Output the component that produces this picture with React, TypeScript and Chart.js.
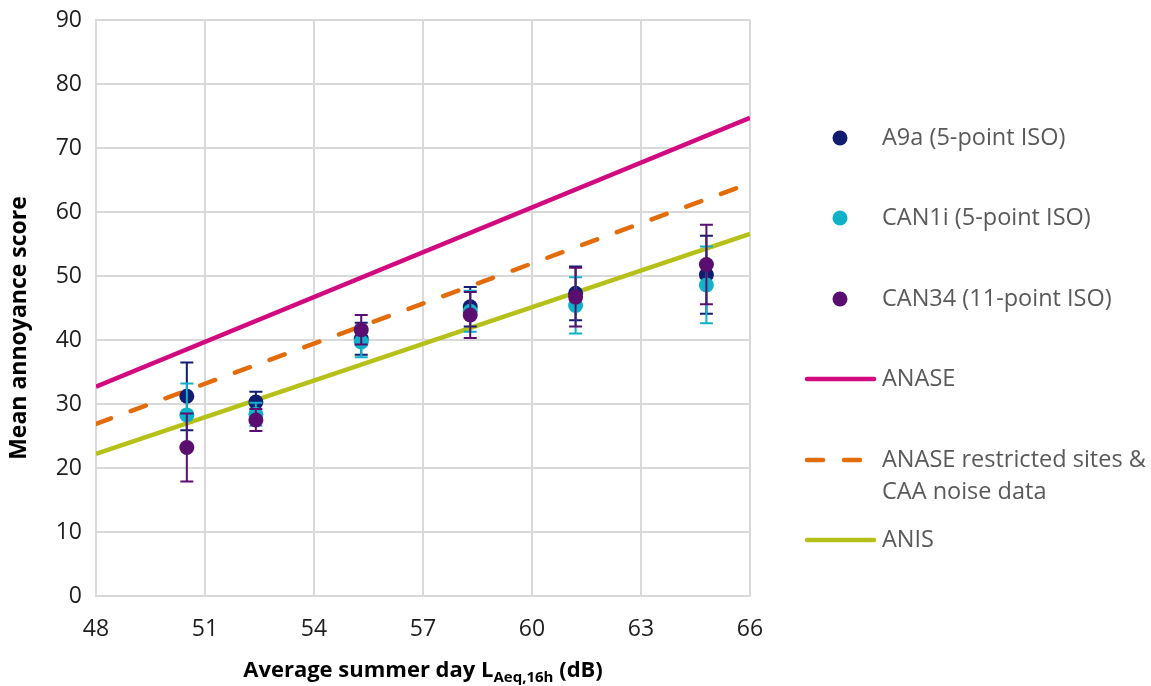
import React, { useEffect, useRef } from 'react';
import { Chart, registerables } from 'chart.js';

Chart.register(...registerables);

// ---- Data ----
const xLevels = [50.5, 52.4, 55.3, 58.3, 61.2, 64.8];

const a9aMean = [31.2, 30.3, 40.2, 45.2, 47.3, 50.2];
const a9aErr = [5.3, 1.6, 2.5, 3.1, 4.2, 6.1];

const can1iMean = [28.3, 28.4, 39.7, 44.5, 45.4, 48.6];
const can1iErr = [4.9, 1.8, 2.4, 3.2, 4.4, 6.0];

const can34Mean = [23.2, 27.5, 41.6, 43.9, 46.7, 51.8];
const can34Err = [5.3, 1.7, 2.3, 3.6, 4.6, 6.2];

const lineX = [48, 66];
const anase = [32.7, 74.7];
const anaseRestricted = [26.9, 64.5];
const anis = [22.2, 56.6];

const seriesLabels = [
  ['A9a (5-point ISO)'],
  ['CAN1i (5-point ISO)'],
  ['CAN34 (11-point ISO)'],
  ['ANASE'],
  ['ANASE restricted sites &', 'CAA noise data'],
  ['ANIS'],
];

const xTicks = [48, 51, 54, 57, 60, 63, 66];
const yTicks = [0, 10, 20, 30, 40, 50, 60, 70, 80, 90];

const yTitle = 'Mean annoyance score';
const xTitleMain = 'Average summer day L';
const xTitleSub = 'Aeq,16h';
const xTitleEnd = ' (dB)';

// ---- Styles ----
const C_A9A = '#121d72';
const C_CAN1I = '#0fb2c8';
const C_CAN34 = '#5a0f70';
const C_ANASE = '#d10a80';
const C_REST = '#e36c0a';
const C_ANIS = '#b5c118';
const FONT = "'Open Sans', sans-serif";
const TEXT_GRAY = '#595959';
const TICK_COLOR = '#1e1e1e';

const pts = (xs: number[], ys: number[]) => xs.map((x, i) => ({ x, y: ys[i] }));

const errorBarPlugin = {
  id: 'errorBars',
  beforeDatasetDraw(chart: any, args: any) {
    const ds = chart.data.datasets[args.index];
    if (!ds.errors) return;
    const ctx = chart.ctx;
    const xs = chart.scales.x;
    const ys = chart.scales.y;
    ctx.save();
    ctx.strokeStyle = ds.backgroundColor;
    ctx.lineWidth = 2;
    ds.data.forEach((p: any, i: number) => {
      const e = ds.errors[i];
      const px = xs.getPixelForValue(p.x);
      const top = ys.getPixelForValue(p.y + e);
      const bot = ys.getPixelForValue(p.y - e);
      ctx.beginPath();
      ctx.moveTo(px, top);
      ctx.lineTo(px, bot);
      ctx.moveTo(px - 6.5, top);
      ctx.lineTo(px + 6.5, top);
      ctx.moveTo(px - 6.5, bot);
      ctx.lineTo(px + 6.5, bot);
      ctx.stroke();
    });
    ctx.restore();
  },
};

const legendAndTitlesPlugin = {
  id: 'customLegendTitles',
  afterDraw(chart: any) {
    const ctx = chart.ctx;
    const area = chart.chartArea;
    ctx.save();
    // Legend
    const rowsY = [138, 218, 299, 379, 460, 540];
    const markerX = 840;
    const lineX0 = 805;
    const lineX1 = 876;
    const textX = 882;
    ctx.font = `23.5px ${FONT}`;
    ctx.textBaseline = 'middle';
    ctx.textAlign = 'left';
    chart.data.datasets.forEach((ds: any, i: number) => {
      const y = rowsY[i];
      if (ds.showLine) {
        ctx.save();
        ctx.strokeStyle = ds.borderColor;
        ctx.lineWidth = ds.borderWidth;
        ctx.lineCap = 'round';
        if (ds.borderDash && ds.borderDash.length) ctx.setLineDash([16, 21]);
        ctx.beginPath();
        ctx.moveTo(lineX0 + 2, y);
        ctx.lineTo(lineX1 - 2, y);
        ctx.stroke();
        ctx.restore();
      } else {
        ctx.fillStyle = ds.backgroundColor;
        ctx.beginPath();
        ctx.arc(markerX, y, 7.5, 0, Math.PI * 2);
        ctx.fill();
      }
      ctx.fillStyle = TEXT_GRAY;
      const lines = seriesLabels[i];
      lines.forEach((t, j) => ctx.fillText(t, textX, y + j * 32));
    });

    // Y title
    ctx.fillStyle = '#000';
    ctx.font = `bold 23px ${FONT}`;
    ctx.save();
    ctx.translate(19, 328);
    ctx.rotate(-Math.PI / 2);
    ctx.textAlign = 'center';
    ctx.textBaseline = 'middle';
    ctx.fillText(yTitle, 0, 0);
    ctx.restore();

    // X title with subscript
    const mainFont = `bold 22px ${FONT}`;
    const subFont = `bold 15px ${FONT}`;
    ctx.font = mainFont;
    const w1 = ctx.measureText(xTitleMain).width;
    const w3 = ctx.measureText(xTitleEnd).width;
    ctx.font = subFont;
    const w2 = ctx.measureText(xTitleSub).width;
    const total = w1 + w2 + w3;
    let x0 = (area.left + area.right) / 2 - total / 2;
    const yBase = 677;
    ctx.textAlign = 'left';
    ctx.textBaseline = 'alphabetic';
    ctx.font = mainFont;
    ctx.fillText(xTitleMain, x0, yBase);
    x0 += w1;
    ctx.font = subFont;
    ctx.fillText(xTitleSub, x0, yBase + 5);
    x0 += w2;
    ctx.font = mainFont;
    ctx.fillText(xTitleEnd, x0, yBase);
    ctx.restore();
  },
};

export default function App() {
  const canvasRef = useRef<HTMLCanvasElement | null>(null);

  useEffect(() => {
    document.body.style.margin = '0';
    const canvas = canvasRef.current;
    if (!canvas) return;
    const chart = new Chart(canvas, {
      type: 'scatter',
      data: {
        datasets: [
          {
            label: seriesLabels[0].join(' '),
            data: pts(xLevels, a9aMean),
            errors: a9aErr,
            backgroundColor: C_A9A,
            borderColor: C_A9A,
            pointRadius: 7.5,
            pointBorderWidth: 0,
            order: 3,
          } as any,
          {
            label: seriesLabels[1].join(' '),
            data: pts(xLevels, can1iMean),
            errors: can1iErr,
            backgroundColor: C_CAN1I,
            borderColor: C_CAN1I,
            pointRadius: 7.5,
            pointBorderWidth: 0,
            order: 2,
          } as any,
          {
            label: seriesLabels[2].join(' '),
            data: pts(xLevels, can34Mean),
            errors: can34Err,
            backgroundColor: C_CAN34,
            borderColor: C_CAN34,
            pointRadius: 7.5,
            pointBorderWidth: 0,
            order: 1,
          } as any,
          {
            label: seriesLabels[3].join(' '),
            data: pts(lineX, anase),
            showLine: true,
            borderColor: C_ANASE,
            backgroundColor: C_ANASE,
            borderWidth: 4.5,
            pointRadius: 0,
            order: 6,
          },
          {
            label: seriesLabels[4].join(' '),
            data: pts(lineX, anaseRestricted),
            showLine: true,
            borderColor: C_REST,
            backgroundColor: C_REST,
            borderWidth: 4.5,
            borderDash: [16, 21],
            borderCapStyle: 'round',
            pointRadius: 0,
            order: 5,
          },
          {
            label: seriesLabels[5].join(' '),
            data: pts(lineX, anis),
            showLine: true,
            borderColor: C_ANIS,
            backgroundColor: C_ANIS,
            borderWidth: 4.5,
            pointRadius: 0,
            order: 4,
          },
        ],
      },
      options: {
        animation: false,
        responsive: false,
        maintainAspectRatio: false,
        layout: { padding: { top: 20, right: 401, bottom: 0, left: 0 } },
        plugins: {
          legend: { display: false },
          tooltip: { enabled: false },
          title: { display: false },
        },
        scales: {
          x: {
            type: 'linear',
            min: xTicks[0],
            max: xTicks[xTicks.length - 1],
            afterBuildTicks: (scale: any) => {
              scale.ticks = xTicks.map((v) => ({ value: v }));
            },
            afterFit: (scale: any) => {
              scale.height = 90;
              scale.paddingLeft = 0;
              scale.paddingRight = 0;
            },
            ticks: {
              color: TICK_COLOR,
              font: { family: FONT, size: 23 },
              padding: 20,
              maxRotation: 0,
            },
            grid: { color: '#d9d9d9', lineWidth: 2, drawTicks: false },
            border: { display: true, color: '#d9d9d9', width: 2 },
          },
          y: {
            type: 'linear',
            min: yTicks[0],
            max: yTicks[yTicks.length - 1],
            afterBuildTicks: (scale: any) => {
              scale.ticks = yTicks.map((v) => ({ value: v }));
            },
            afterFit: (scale: any) => {
              scale.width = 96;
              scale.paddingTop = 0;
              scale.paddingBottom = 0;
            },
            ticks: {
              color: TICK_COLOR,
              font: { family: FONT, size: 23 },
              padding: 14,
            },
            grid: { color: '#d9d9d9', lineWidth: 2, drawTicks: false },
            border: { display: true, color: '#d9d9d9', width: 2 },
          },
        },
      },
      plugins: [errorBarPlugin, legendAndTitlesPlugin],
    } as any);
    return () => chart.destroy();
  }, []);

  return (
    <div style={{ width: 1151, height: 686 }}>
      <canvas ref={canvasRef} width={1151} height={686} style={{ display: 'block' }} />
    </div>
  );
}
